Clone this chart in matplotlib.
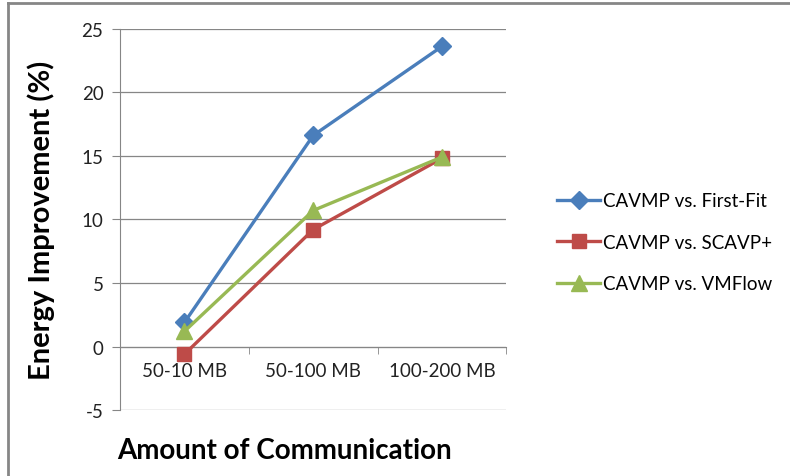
import matplotlib
matplotlib.use("Agg")
import matplotlib.pyplot as plt
from matplotlib.lines import Line2D

categories = ["50-10 MB", "50-100 MB", "100-200 MB"]
first_fit = [1.9, 16.6, 23.6]
scavp = [-0.6, 9.2, 14.8]
vmflow = [1.2, 10.7, 14.9]

series = [
    ("CAVMP vs. First-Fit", first_fit, "#4A7EBB", "D", 9),
    ("CAVMP vs. SCAVP+", scavp, "#BE4B48", "s", 10),
    ("CAVMP vs. VMFlow", vmflow, "#98B954", "^", 12),
]

plt.rcParams["font.family"] = ["Lato", "DejaVu Sans"]
plt.rcParams["axes.unicode_minus"] = False

fig = plt.figure(figsize=(7.9, 4.77), dpi=100)
ax = fig.add_axes([0.152, 0.138, 0.489, 0.800])

xs = [i + 0.5 for i in range(len(categories))]
for label, vals, color, marker, ms in series:
    ax.plot(xs, vals, color=color, lw=2.4, marker=marker, markersize=ms,
            markeredgecolor=color, label=label, zorder=3)

ax.set_xlim(0, len(categories))
ax.set_ylim(-5, 25)
ax.set_yticks(range(-5, 30, 5))
ax.tick_params(axis="y", length=6, color="#868686", labelsize=13.5,
               labelcolor="#222222", pad=6)
ax.yaxis.grid(True, color="#868686", lw=0.9)
ax.set_axisbelow(True)

ax.set_xticks(xs)
ax.set_xticklabels(categories)
ax.set_xticks(range(len(categories) + 1), minor=True)
ax.tick_params(axis="x", which="major", length=0, labelsize=13.5,
               labelcolor="#222222", pad=11)
ax.tick_params(axis="x", which="minor", length=5, color="#868686",
               direction="out")

for side in ["top", "right"]:
    ax.spines[side].set_visible(False)
ax.spines["left"].set_color("#868686")
ax.spines["bottom"].set_color("#868686")
ax.spines["bottom"].set_position(("data", 0))

ax.set_ylabel("Energy Improvement (%)", fontsize=21, fontweight="bold")
ax.yaxis.set_label_coords(-0.168, 0.5)
fig.text(0.36, 0.055, "Amount of Communication", fontsize=20,
         fontweight="bold", ha="center", va="center")

fig.legend(loc="center left", bbox_to_anchor=(0.684, 0.49), frameon=False,
           fontsize=13.5, handlelength=2.3, handletextpad=0.15,
           labelspacing=1.3)

# outer chart frame
fig.add_artist(Line2D([0.0106, 1.0], [0.991, 0.991], color="#868686", lw=2,
                      transform=fig.transFigure))
fig.add_artist(Line2D([0.0106, 0.0106], [0.0, 0.991], color="#868686", lw=2,
                      transform=fig.transFigure))

fig.savefig("out.png", dpi=100)
